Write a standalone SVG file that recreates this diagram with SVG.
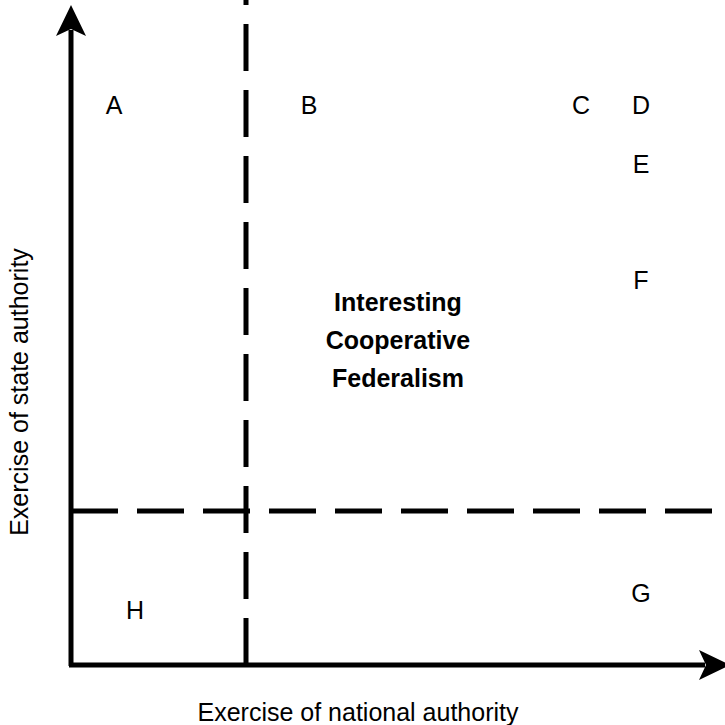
<svg xmlns="http://www.w3.org/2000/svg" width="725" height="725" viewBox="0 0 725 725">
<style>
.axis{stroke:#000;stroke-width:5;fill:none}
.dash{stroke:#000;stroke-width:5;fill:none;stroke-dasharray:47 19}
.lbl{font-family:"Liberation Sans",Arial,sans-serif;font-size:25px;fill:#000;text-anchor:middle}
.big{font-family:"Liberation Sans",Arial,sans-serif;font-size:25px;font-weight:bold;fill:#000;text-anchor:middle}
</style>
<rect width="725" height="725" fill="#fff"/>
<g id="connectors">
<path class="axis" d="M71,666 L71,30"/>
<path d="M71,5 L86,36 L71,29 L56,36 Z" fill="#000"/>
<path class="axis" d="M69,665 L705,665"/>
<path d="M730,665 L699,680 L706,665 L699,650 Z" fill="#000"/>
<path class="dash" d="M246,665 L246,0"/>
<path class="dash" d="M71,511 L725,511"/>
</g>
<g id="node-A"><text class="lbl" x="114" y="114">A</text></g>
<g id="node-B"><text class="lbl" x="309" y="114">B</text></g>
<g id="node-C"><text class="lbl" x="581" y="114">C</text></g>
<g id="node-D"><text class="lbl" x="641" y="114">D</text></g>
<g id="node-E"><text class="lbl" x="641" y="173">E</text></g>
<g id="node-F"><text class="lbl" x="641" y="289">F</text></g>
<g id="node-G"><text class="lbl" x="641" y="602">G</text></g>
<g id="node-H"><text class="lbl" x="135" y="619">H</text></g>
<g id="node-center">
<text class="big" x="398" y="311">Interesting</text>
<text class="big" x="398" y="349">Cooperative</text>
<text class="big" x="398" y="387">Federalism</text>
</g>
<g id="label-x"><text class="lbl" x="358" y="721">Exercise of national authority</text></g>
<g id="label-y"><text class="lbl" x="0" y="0" transform="translate(28,392) rotate(-90)">Exercise of state authority</text></g>
</svg>
